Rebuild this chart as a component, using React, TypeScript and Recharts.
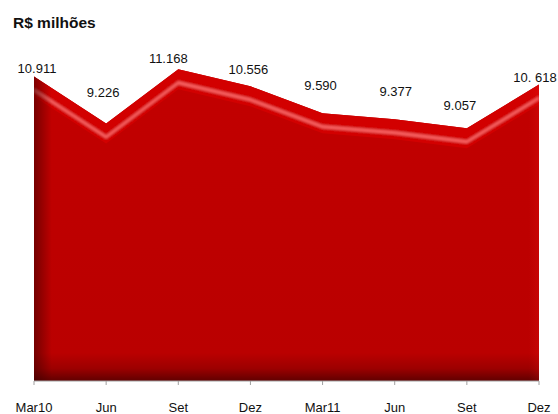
import React from 'react';
import { AreaChart, Area, XAxis, YAxis, LabelList } from 'recharts';

// quarters on the x axis (repeated names are fine on a category axis)
const months = ['Mar10', 'Jun', 'Set', 'Dez', 'Mar11', 'Jun', 'Set', 'Dez'];
// R$ milhões
const valores = [10.911, 9.226, 11.168, 10.556, 9.59, 9.377, 9.057, 10.618];
// labels as printed on the original (note the stray space in the last one)
const rotulos = ['10.911', '9.226', '11.168', '10.556', '9.590', '9.377', '9.057', '10. 618'];
// small nudges for each label: [dx, lift above point]
const labelNudge = [[3, 8], [-3, 31], [-10, 11], [-2, 17], [-2, 28], [1, 28], [-7, 23], [-4, 7]];

const data = months.map((m, i) => ({ month: m, valor: valores[i] }));

const FONT = '"Liberation Sans", Arial, Helvetica, sans-serif';

function ValueLabel(props: any) {
  const { x, y, index } = props;
  const [dx, lift] = labelNudge[index] ?? [0, 10];
  return (
    <text
      x={Number(x) + dx}
      y={Number(y) - lift + 4.7}
      textAnchor="middle"
      fontSize={13}
      fontFamily={FONT}
      fill="#111"
    >
      {rotulos[index]}
    </text>
  );
}

export default function App() {
  return (
    <div style={{ position: 'absolute', left: 0, top: 0, width: 558, height: 414, background: '#fff' }}>
      <style>{'.bevel-area .recharts-area-area { filter: url(#bevel); }'}</style>
      <div
        style={{
          position: 'absolute', left: 13, top: 13,
          fontFamily: FONT, fontWeight: 700, fontSize: 15.5, color: '#111', lineHeight: '20px'
        }}
      >
        R$ milhões
      </div>
      <AreaChart
        width={558}
        height={414}
        data={data}
        margin={{ top: 46, right: 19, bottom: 0, left: 34 }}
      >
        <defs>
          <linearGradient id="bodyFill" x1="0" y1="0" x2="0" y2="1">
            <stop offset="0%" stopColor="#C20000" />
            <stop offset="91%" stopColor="#BA0000" />
            <stop offset="96%" stopColor="#9C0000" />
            <stop offset="100%" stopColor="#600000" />
          </linearGradient>
          <linearGradient id="edgeShade" x1="0" y1="0" x2="1" y2="0">
            <stop offset="0%" stopColor="#3a0000" stopOpacity={0.55} />
            <stop offset="3.5%" stopColor="#3a0000" stopOpacity={0} />
            <stop offset="98%" stopColor="#ff2020" stopOpacity={0} />
            <stop offset="100%" stopColor="#ff2020" stopOpacity={0.15} />
          </linearGradient>
          <filter id="bevel" x="-5%" y="-5%" width="110%" height="110%">
            <feOffset in="SourceAlpha" dy="20" result="o20" />
            <feComposite in="SourceAlpha" in2="o20" operator="out" result="band" />
            <feFlood floodColor="#D20000" result="bandColor" />
            <feComposite in="bandColor" in2="band" operator="in" result="bandFill" />
            <feOffset in="SourceAlpha" dy="12" result="o12" />
            <feOffset in="SourceAlpha" dy="15" result="o15" />
            <feComposite in="o12" in2="o15" operator="out" result="stripe" />
            <feGaussianBlur in="stripe" stdDeviation="1.2" result="stripeSoft" />
            <feFlood floodColor="#FF6A6A" floodOpacity={0.85} result="stripeColor" />
            <feComposite in="stripeColor" in2="stripeSoft" operator="in" result="stripeFill0" />
            <feComposite in="stripeFill0" in2="SourceAlpha" operator="in" result="stripeFill" />
            <feMerge>
              <feMergeNode in="SourceGraphic" />
              <feMergeNode in="bandFill" />
              <feMergeNode in="stripeFill" />
            </feMerge>
          </filter>
        </defs>
        <XAxis
          dataKey="month"
          interval={0}
          height={33}
          tickSize={4}
          tickMargin={18}
          axisLine={{ stroke: '#a0a0a0' }}
          tickLine={{ stroke: '#a0a0a0' }}
          tick={{ fontSize: 13, fontFamily: FONT, fill: '#111' }}
        />
        <YAxis hide domain={[0, 12]} />
        <Area
          className="bevel-area"
          type="linear"
          dataKey="valor"
          stroke="none"
          fill="url(#bodyFill)"
          fillOpacity={1}
          dot={false}
          activeDot={false}
          isAnimationActive={false}
        />
        <Area
          type="linear"
          dataKey="valor"
          stroke="none"
          fill="url(#edgeShade)"
          fillOpacity={1}
          dot={false}
          activeDot={false}
          isAnimationActive={false}
        >
          <LabelList dataKey="valor" content={ValueLabel} />
        </Area>
      </AreaChart>
    </div>
  );
}
